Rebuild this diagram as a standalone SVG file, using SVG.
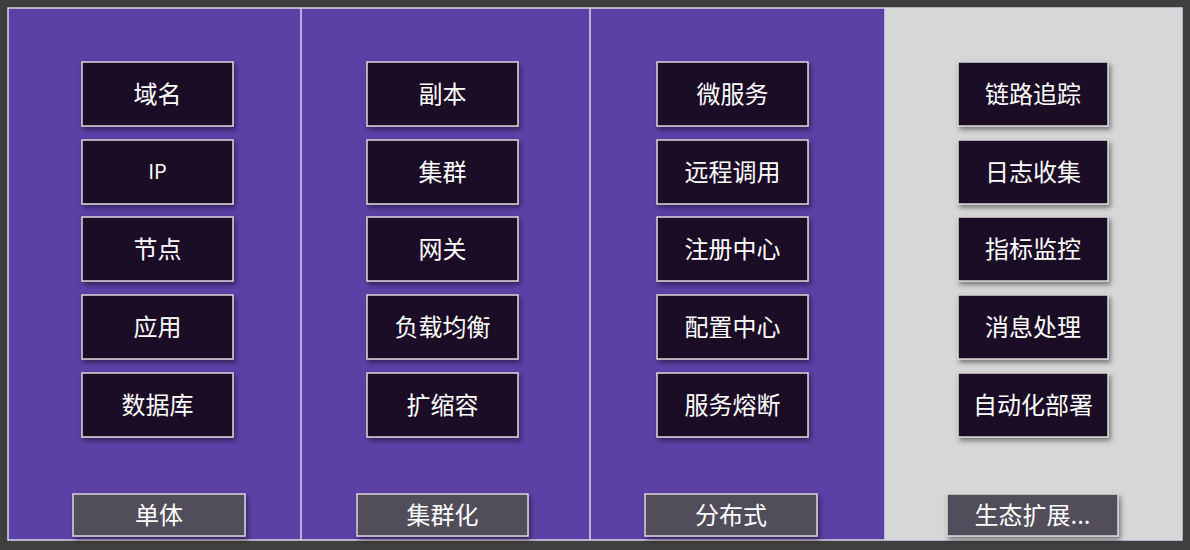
<svg xmlns="http://www.w3.org/2000/svg" width="1190" height="550" viewBox="0 0 1190 550">
<defs>
<filter id="sh" x="-20%" y="-20%" width="150%" height="160%">
<feDropShadow dx="2" dy="3" stdDeviation="2.5" flood-color="#000" flood-opacity="0.45"/>
</filter>
<style>
.col{fill:#5b40a6;}
.grey{fill:#d7d7d7;}
.div{stroke:#dcd6ea;stroke-width:1.5;fill:none;}
.box{fill:#1f1128;stroke:#d8d8d8;stroke-width:1.5;filter:url(#sh);}
.lab{fill:#514e5a;stroke:#d8d8d8;stroke-width:1.5;filter:url(#sh);}
.t{font-family:"Noto Sans CJK SC","Noto Sans",sans-serif;font-size:24px;fill:#ffffff;text-anchor:middle;dominant-baseline:central;}
.ip{font-size:20px;}
</style>
</defs>
<rect x="0" y="0" width="1190" height="550" fill="#3f3f3f"/>
<rect class="col" x="8" y="8" width="877" height="532"/>
<rect class="grey" x="885" y="8" width="297" height="532"/>
<rect class="div" x="8" y="8" width="1174" height="532"/>
<line class="div" x1="301" y1="8" x2="301" y2="540"/>
<line class="div" x1="590" y1="8" x2="590" y2="540"/>
<line class="div" x1="885" y1="8" x2="885" y2="540"/>

<g id="n-yuming"><rect class="box" x="82" y="62" width="151" height="64"/><text class="t" x="157.5" y="92">域名</text></g>
<g id="n-ip"><rect class="box" x="82" y="140" width="151" height="64"/><text class="t ip" x="157.5" y="170">IP</text></g>
<g id="n-jiedian"><rect class="box" x="82" y="217" width="151" height="64"/><text class="t" x="157.5" y="247">节点</text></g>
<g id="n-yingyong"><rect class="box" x="82" y="295" width="151" height="64"/><text class="t" x="157.5" y="325">应用</text></g>
<g id="n-shujuku"><rect class="box" x="82" y="373" width="151" height="64"/><text class="t" x="157.5" y="403">数据库</text></g>
<g id="l-danti"><rect class="lab" x="73" y="494" width="172" height="42"/><text class="t" x="159" y="513">单体</text></g>

<g id="n-fuben"><rect class="box" x="367" y="62" width="151" height="64"/><text class="t" x="442.5" y="92">副本</text></g>
<g id="n-jiqun"><rect class="box" x="367" y="140" width="151" height="64"/><text class="t" x="442.5" y="170">集群</text></g>
<g id="n-wangguan"><rect class="box" x="367" y="217" width="151" height="64"/><text class="t" x="442.5" y="247">网关</text></g>
<g id="n-fuzai"><rect class="box" x="367" y="295" width="151" height="64"/><text class="t" x="442.5" y="325">负载均衡</text></g>
<g id="n-kuosuo"><rect class="box" x="367" y="373" width="151" height="64"/><text class="t" x="442.5" y="403">扩缩容</text></g>
<g id="l-jiqunhua"><rect class="lab" x="357" y="494" width="171" height="42"/><text class="t" x="442.5" y="513">集群化</text></g>

<g id="n-weifuwu"><rect class="box" x="657" y="62" width="151" height="64"/><text class="t" x="732.5" y="92">微服务</text></g>
<g id="n-yuancheng"><rect class="box" x="657" y="140" width="151" height="64"/><text class="t" x="732.5" y="170">远程调用</text></g>
<g id="n-zhuce"><rect class="box" x="657" y="217" width="151" height="64"/><text class="t" x="732.5" y="247">注册中心</text></g>
<g id="n-peizhi"><rect class="box" x="657" y="295" width="151" height="64"/><text class="t" x="732.5" y="325">配置中心</text></g>
<g id="n-rongduan"><rect class="box" x="657" y="373" width="151" height="64"/><text class="t" x="732.5" y="403">服务熔断</text></g>
<g id="l-fenbushi"><rect class="lab" x="645" y="494" width="172" height="42"/><text class="t" x="731" y="513">分布式</text></g>

<g id="n-lianlu"><rect class="box" x="958" y="62" width="150" height="64"/><text class="t" x="1033" y="92">链路追踪</text></g>
<g id="n-rizhi"><rect class="box" x="958" y="140" width="150" height="64"/><text class="t" x="1033" y="170">日志收集</text></g>
<g id="n-zhibiao"><rect class="box" x="958" y="217" width="150" height="64"/><text class="t" x="1033" y="247">指标监控</text></g>
<g id="n-xiaoxi"><rect class="box" x="958" y="295" width="150" height="64"/><text class="t" x="1033" y="325">消息处理</text></g>
<g id="n-zidong"><rect class="box" x="958" y="373" width="150" height="64"/><text class="t" x="1033" y="403">自动化部署</text></g>
<g id="l-shengtai"><rect class="lab" x="947" y="494" width="171" height="42"/><text class="t" x="1032.5" y="513">生态扩展...</text></g>

<g id="connectors"></g>
</svg>
